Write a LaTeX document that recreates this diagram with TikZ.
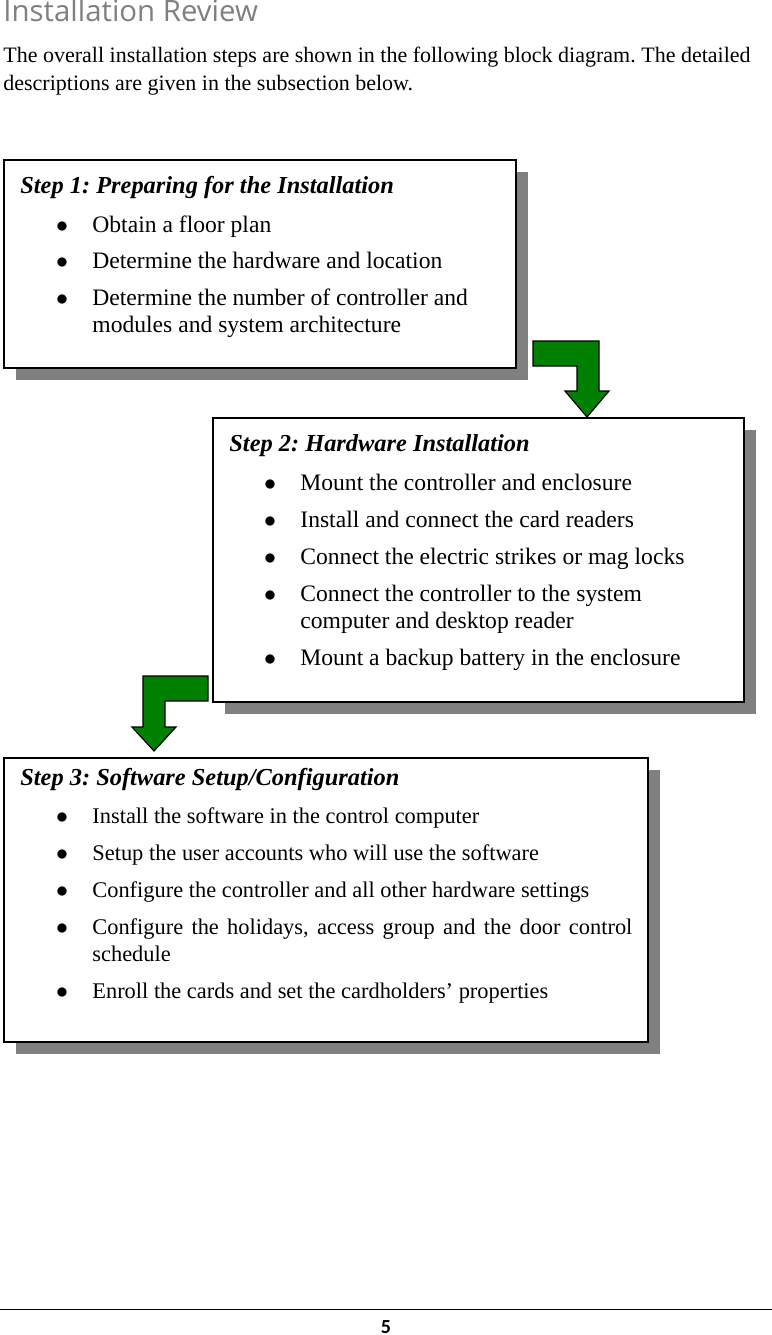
\documentclass[tikz,border=0pt]{standalone}
\usepackage{fontspec}
\setmainfont{Liberation Serif}
\newfontfamily\headfont[Ligatures=NoCommon]{Open Sans}
\newfontfamily\pagefont{Carlito}
\usetikzlibrary{shadows}
\definecolor{shadowgray}{RGB}{128,128,128}
\definecolor{arrowgreen}{RGB}{0,128,0}
\frenchspacing
\tikzset{
  stepbox/.style={draw=black, line width=0.75pt, fill=white, anchor=north west, inner sep=0pt,
    drop shadow={shadow xshift=6pt, shadow yshift=-6pt, fill=shadowgray, opacity=1}},
  bentarrow/.style={draw=black, line width=0.6pt, fill=arrowgreen, line join=miter},
  headline/.style={anchor=base west, inner sep=0pt, text=shadowgray, font=\headfont\fontsize{14.7}{17}\selectfont},
  bodyline/.style={anchor=base west, inner sep=0pt, font=\fontsize{11}{13}\selectfont},
  steptitle/.style={anchor=base west, inner sep=0pt, font=\fontsize{12.2}{13.5}\selectfont\bfseries\itshape},
  itemline/.style={anchor=base west, inner sep=0pt, font=\fontsize{11.8}{13.5}\selectfont},
  smallitem/.style={itemline, font=\fontsize{11.2}{13.5}\selectfont},
  bulletdot/.style={anchor=base, inner sep=0pt, font=\fontsize{11.8}{13.5}\selectfont},
}
\newcommand{\itemdot}{$\bullet$}
\begin{document}
\begin{tikzpicture}[x=0.5pt, y=-0.5pt]
      \useasboundingbox (0,0) rectangle (772,1335);

      \node[headline] (title) at (3,21){Installation Review};
      \node[bodyline] (intro1) at (3,62){The overall installation steps are shown in the following block diagram. The detailed};
      \node[bodyline] (intro2) at (3,90){descriptions are given in the subsection below.};

      \node[stepbox, minimum width=256pt, minimum height=104pt] (step1) at (3,159){};
        \node[steptitle] (title1) at (20,193){Step 1: Preparing for the Installation};
        \node[bulletdot] (dot11) at (62,232){\itemdot};
        \node[itemline] (item11) at (92,232){Obtain a floor plan};
        \node[bulletdot] (dot12) at (62,268){\itemdot};
        \node[itemline] (item12) at (92,268){Determine the hardware and location};
        \node[bulletdot] (dot13) at (62,305){\itemdot};
        \node[itemline] (item13) at (92,305){Determine the number of controller and};
        \node[itemline] (item13b) at (92,332){modules and system architecture};

      \draw[bentarrow] (533,341) -- (599,341) -- (599,391) -- (609,391) -- (587,417)
        -- (565,391) -- (577,391) -- (577,366) -- (533,366) -- cycle;

      \node[stepbox, minimum width=265.5pt, minimum height=142pt] (step2) at (212,417){};
        \node[steptitle] (title2) at (229,451){Step 2: Hardware Installation};
        \node[bulletdot] (dot21) at (270,490){\itemdot};
        \node[itemline] (item21) at (300,490){Mount the controller and enclosure};
        \node[bulletdot] (dot22) at (270,527){\itemdot};
        \node[itemline] (item22) at (300,527){Install and connect the card readers};
        \node[bulletdot] (dot23) at (270,564){\itemdot};
        \node[itemline] (item23) at (300,564){Connect the electric strikes or mag locks};
        \node[bulletdot] (dot24) at (270,601){\itemdot};
        \node[itemline] (item24) at (300,601){Connect the controller to the system};
        \node[itemline] (item24b) at (300,628){computer and desktop reader};
        \node[bulletdot] (dot25) at (270,665){\itemdot};
        \node[itemline] (item25) at (300,665){Mount a backup battery in the enclosure};

      \draw[bentarrow] (143,676) -- (208,676) -- (208,701) -- (165,701) -- (165,727)
        -- (176,727) -- (154,751) -- (132,727) -- (143,727) -- cycle;

      \node[stepbox, minimum width=322pt, minimum height=142pt] (step3) at (3,757){};
        \node[steptitle] (title3) at (20,785){Step 3: Software Setup/Configuration};
        \node[bulletdot] (dot31) at (62,823){\itemdot};
        \node[smallitem] (item31) at (92,823){Install the software in the control computer};
        \node[bulletdot] (dot32) at (62,860){\itemdot};
        \node[smallitem] (item32) at (92,860){Setup the user accounts who will use the software};
        \node[bulletdot] (dot33) at (62,897){\itemdot};
        \node[smallitem] (item33) at (92,897){Configure the controller and all other hardware settings};
        \node[bulletdot] (dot34) at (62,934){\itemdot};
        \node[smallitem] (item34) at (92,934){\makebox[270pt][s]{Configure the holidays, access group and the door control}};
        \node[smallitem] (item34b) at (92,961){schedule};
        \node[bulletdot] (dot35) at (62,998){\itemdot};
        \node[smallitem] (item35) at (92,998){Enroll the cards and set the cardholders’ properties};

      \draw[line width=0.5pt] (0,1309) -- (772,1309);
      \node[anchor=base, inner sep=0pt, font=\pagefont\bfseries\fontsize{10}{12}\selectfont] (pagenum) at (386,1333){5};

    \end{tikzpicture}
\end{document}
